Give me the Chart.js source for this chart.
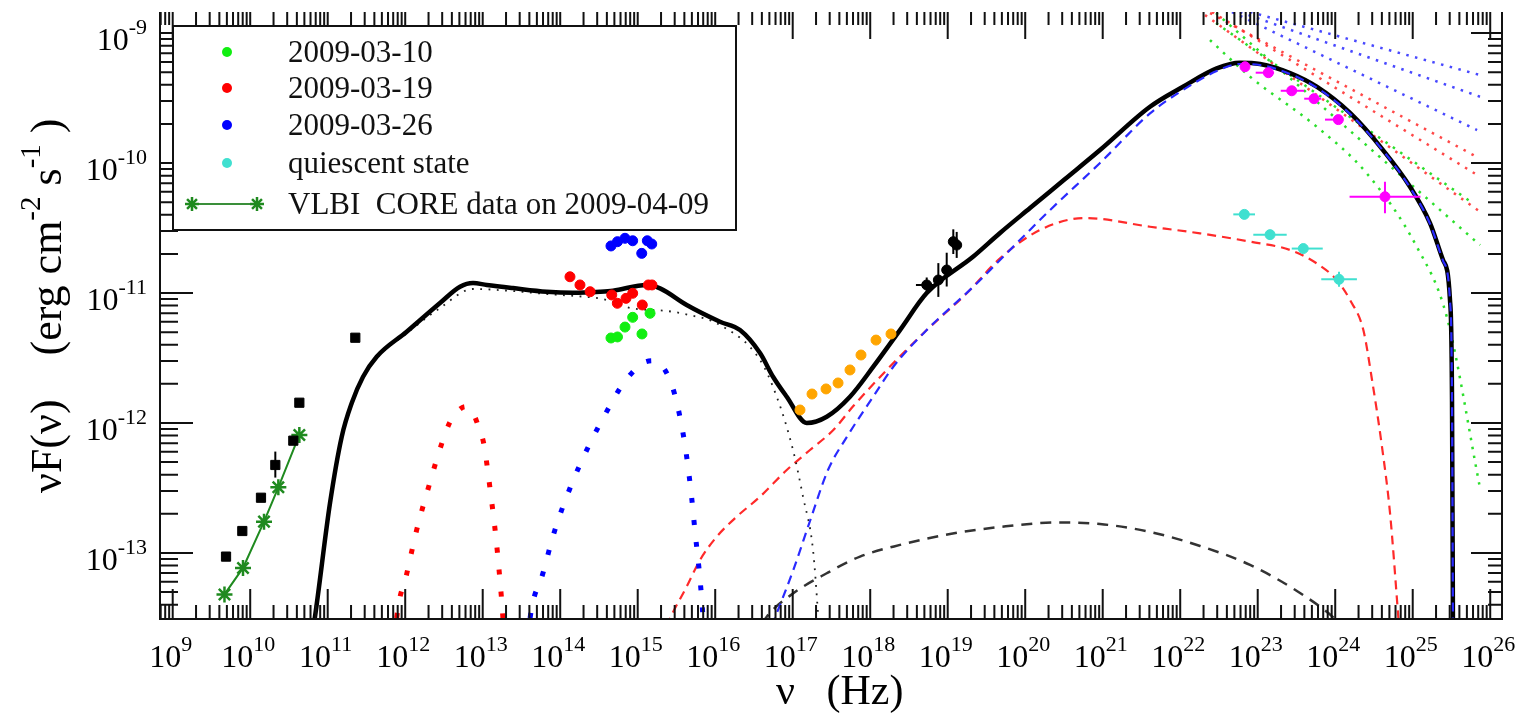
<!DOCTYPE html>
<html>
<head>
<meta charset="utf-8">
<title>SED</title>
<script src="https://cdn.jsdelivr.net/npm/chart.js@4.4.1/dist/chart.umd.min.js"></script>
<style>
html,body{margin:0;padding:0;background:#fff}
</style>
</head>
<body>
<canvas id="sed" width="1522" height="715"></canvas>
<script>
// all values as log10(nu / Hz) and log10(nuFnu / erg cm-2 s-1)
const xTickExp = [9,10,11,12,13,14,15,16,17,18,19,20,21,22,23,24,25,26]
const yTickExp = [-13,-12,-11,-10,-9]
const xLogRange = [8.836, 26.152]
const yLogRange = [-13.508, -8.838]

// total model (thick black)
const totalNu = [10.78,10.836,11.030,11.181,11.310,11.456,11.632,12.019,12.449,12.707,12.875,13.052,13.391,13.826,14.165,14.514,14.681,15.116,15.288,15.632,16.062,16.320,16.578,16.746,16.923,17.181,17.439,17.739,18.040,18.384,18.729,19.326,19.675,20.062,20.514,20.965,21.610,22.036,22.471,22.772,23.030,23.417,23.761,24.191,24.617,24.965,25.223,25.391,25.481,25.507,25.520]
const totalF = [-13.7,-13.490,-12.615,-12.105,-11.846,-11.644,-11.490,-11.298,-11.077,-10.952,-10.923,-10.938,-10.962,-10.990,-10.998,-10.990,-10.982,-10.938,-10.964,-11.092,-11.221,-11.285,-11.462,-11.644,-11.798,-12.000,-11.952,-11.798,-11.567,-11.285,-11.000,-10.721,-10.538,-10.346,-10.123,-9.900,-9.567,-9.413,-9.272,-9.228,-9.238,-9.308,-9.413,-9.615,-9.900,-10.182,-10.462,-10.746,-11.054,-11.823,-13.7]

// synchrotron (black dotted)
const syncNu = [10.78,10.836,11.030,11.181,11.310,11.456,11.632,12.019,12.449,12.875,13.391,13.826,14.294,14.552,14.900,15.374,15.585,16.062,16.578,16.794,17.004,17.133,17.262,17.326,17.352]
const syncF = [-13.7,-13.490,-12.615,-12.105,-11.846,-11.644,-11.500,-11.310,-11.115,-10.969,-10.985,-11.008,-11.028,-11.046,-11.115,-11.138,-11.159,-11.246,-11.515,-11.798,-12.208,-12.567,-12.977,-13.462,-13.7]

// torus bump (red dotted) and disk bump (blue dotted)
const dustNu = [11.868,11.890,12.019,12.148,12.303,12.475,12.578,12.668,12.775,12.862,12.930,13.017,13.060,13.098,13.168,13.223,13.262,13.275]
const dustF = [-13.67,-13.500,-13.162,-12.823,-12.490,-12.152,-11.992,-11.915,-11.875,-11.908,-12.002,-12.169,-12.344,-12.521,-12.867,-13.213,-13.515,-13.67]
const diskNu = [13.585,13.611,13.774,13.929,14.126,14.363,14.634,14.781,14.969,15.094,15.214,15.314,15.400,15.494,15.606,15.684,15.743,15.804,15.843,15.855]
const diskF = [-13.67,-13.502,-13.162,-12.828,-12.502,-12.182,-11.875,-11.725,-11.587,-11.531,-11.521,-11.562,-11.648,-11.818,-12.156,-12.508,-12.854,-13.202,-13.508,-13.67]

// external Compton (red dashed), SSC (blue dashed), low hump (black dashed)
const ecNu = [15.30,15.417,15.632,15.804,16.019,16.277,16.578,16.923,17.223,17.524,17.782,18.213,18.729,19.245,19.675,20.191,20.772,21.610,22.256,22.901,23.417,23.761,24.019,24.191,24.363,24.475,24.604,24.707,24.810,24.836]
const ecF = [-13.67,-13.502,-13.259,-13.054,-12.875,-12.721,-12.567,-12.362,-12.208,-12.054,-11.870,-11.592,-11.285,-11.002,-10.733,-10.515,-10.423,-10.490,-10.541,-10.605,-10.669,-10.772,-10.900,-11.054,-11.285,-11.669,-12.185,-12.692,-13.462,-13.67]
const sscNu = [16.661,16.794,17.008,17.223,17.455,17.701,18.036,18.298,18.729,19.330,19.675,20.320,20.965,21.610,22.036,22.471,22.772,23.030,23.417,23.761,24.191,24.617,24.965,25.223,25.391,25.481,25.507,25.520]
const sscF = [-13.669,-13.464,-13.131,-12.754,-12.362,-12.105,-11.800,-11.567,-11.285,-10.952,-10.746,-10.362,-10.000,-9.618,-9.438,-9.292,-9.238,-9.246,-9.315,-9.420,-9.622,-9.905,-10.188,-10.468,-10.752,-11.060,-11.830,-13.7]
const lowNu = [16.48,16.665,17.008,17.439,17.868,18.385,19.030,19.675,20.449,20.965,21.610,22.256,22.901,23.546,23.998,24.127]
const lowF = [-13.67,-13.490,-13.310,-13.156,-13.028,-12.938,-12.854,-12.800,-12.765,-12.777,-12.838,-12.946,-13.092,-13.308,-13.508,-13.592]

// gamma-ray bow-tie lines (dotted, upper right)
const bowBlue = [
  {nu:[22.901,25.868], f:[-8.838,-9.323]},
  {nu:[22.772,25.868], f:[-8.838,-9.490]},
  {nu:[22.668,25.830], f:[-8.838,-9.746]}
]
const bowRed = [
  {nu:[22.385,25.830], f:[-8.846,-9.954]},
  {nu:[22.410,25.868], f:[-8.838,-10.105]},
  {nu:[22.320,25.868], f:[-8.862,-10.375]}
]
const bowGreen = [
  {nu:[22.462,25.778], f:[-8.923,-10.310]},
  {nu:[22.462,25.868], f:[-8.846,-10.631]},
  {nu:[22.384,22.901,23.761,24.406,25.052,25.439,25.868], f:[-9.054,-9.336,-9.721,-10.079,-10.644,-11.182,-12.500]}
]

// optical / UV data
const g10Nu = [14.655,14.739,14.836,14.935,15.055,15.159]
const g10F = [-11.346,-11.338,-11.262,-11.187,-11.315,-11.156]
const r19Nu = [14.126,14.255,14.386,14.665,14.737,14.849,14.935,15.059,15.137,15.184]
const r19F = [-10.875,-10.938,-10.990,-11.015,-11.079,-11.041,-11.002,-11.092,-10.938,-10.938]
const b26Nu = [14.655,14.739,14.836,14.935,15.052,15.124,15.181]
const b26F = [-10.638,-10.605,-10.579,-10.598,-10.695,-10.598,-10.623]

// radio
const radioNu = [9.688,9.898,10.139,10.324,10.556,10.634,11.356]
const radioF = [-13.028,-12.831,-12.575,-12.323,-12.136,-11.844,-11.344]
const radioFLo = [-13.028,-12.831,-12.575,-12.42,-12.136,-11.844,-11.344]
const radioFHi = [-13.028,-12.831,-12.575,-12.22,-12.136,-11.844,-11.344]
const vlbiNu = [9.668,9.907,10.178,10.363,10.634]
const vlbiF = [-13.319,-13.115,-12.759,-12.495,-12.092]

// X-ray
const xrtNu = [17.094,17.249,17.430,17.585,17.739,17.881,18.075,18.268]
const xrtF = [-11.900,-11.777,-11.738,-11.692,-11.592,-11.477,-11.362,-11.315]
const batNu = [18.729,18.879,18.987,19.072,19.116]
const batF = [-10.938,-10.900,-10.823,-10.605,-10.631]
const batNuLo = [18.59,18.879,18.987,19.072,19.116]
const batNuHi = [18.87,18.879,18.987,19.072,19.116]
const batFLo = [-10.99,-11.03,-10.95,-10.70,-10.73]
const batFHi = [-10.88,-10.77,-10.69,-10.51,-10.53]

// gamma-ray, flare and quiescent
const latNu = [22.836,23.137,23.439,23.727,24.040,24.642]
const latF = [-9.259,-9.305,-9.444,-9.505,-9.666,-10.259]
const latNuLo = [22.836,22.974,23.297,23.600,23.868,24.185]
const latNuHi = [22.836,23.211,23.598,23.820,24.105,25.100]
const latFLo = [-9.259,-9.305,-9.444,-9.505,-9.666,-10.387]
const latFHi = [-9.259,-9.305,-9.444,-9.505,-9.666,-10.144]
const qNu = [22.827,23.159,23.588,24.049]
const qF = [-10.395,-10.551,-10.658,-10.895]
const qNuLo = [22.685,22.943,23.439,23.820]
const qNuHi = [22.965,23.374,23.839,24.280]
const qFLo = [-10.395,-10.551,-10.658,-10.951]
const qFHi = [-10.395,-10.551,-10.658,-10.836]

const legendLabels = ["2009-03-10","2009-03-19","2009-03-26","quiescent state","VLBI  CORE data on 2009-04-09"]

const P = v => Math.pow(10, v)
function pts(nu, f){
  return nu.map((v,i)=>({x:P(v), y:P(f[i])}))
}
function curve(nu, f, color, width, dash, order){
  return {data:pts(nu,f), showLine:true, pointRadius:0, borderColor:color, borderWidth:width,
    borderDash:dash, borderCapStyle:'butt', cubicInterpolationMode:'monotone', fill:false, clip:0, order:order}
}
function dots(nu, f, color, radius, style, order){
  return {data:pts(nu,f), showLine:false, pointRadius:radius, pointStyle:style||'circle',
    backgroundColor:color, borderColor:color, borderWidth:1, order:order||1}
}

let datasets = []
bowBlue.forEach(b=>datasets.push(curve(b.nu,b.f,'rgba(40,40,255,0.85)',2.5,[2.5,6.5],6)))
bowRed.forEach(b=>datasets.push(curve(b.nu,b.f,'rgba(255,40,40,0.85)',2.5,[2.5,6.5],6)))
bowGreen.forEach(b=>datasets.push(curve(b.nu,b.f,'rgba(20,220,20,0.9)',2.5,[2.5,6.5],6)))
datasets.push(curve(lowNu,lowF,'#333',2.5,[11,8],5))
datasets.push(curve(dustNu,dustF,'#ff0000',5,[5,17],5))
datasets.push(curve(diskNu,diskF,'#0000ff',5,[5,17],5))
datasets.push(curve(syncNu,syncF,'#222',1.8,[1.8,6.5],5))
datasets.push(curve(ecNu,ecF,'#ff2a2a',2.2,[9,6],5))
datasets.push(curve(totalNu,totalF,'#000',4.5,[],4))
datasets.push(curve(sscNu,sscF,'#2a2aff',2.2,[9,6],3))
datasets.push(dots(radioNu,radioF,'#000',6.5,'rect'))
datasets.push({data:pts(vlbiNu,vlbiF), showLine:true, pointRadius:8, pointStyle:'star',
  borderColor:'#1f8a1f', backgroundColor:'#1f8a1f', pointBorderWidth:2.5, borderWidth:2, order:1})
datasets.push(dots(xrtNu,xrtF,'#ffa500',5))
datasets.push(dots(batNu,batF,'#000',5))
datasets.push(dots(g10Nu,g10F,'#11ee11',5))
datasets.push(dots(r19Nu,r19F,'#ff0000',5))
datasets.push(dots(b26Nu,b26F,'#0000ff',5))
datasets.push(dots(qNu,qF,'#40e0d0',5))
datasets.push(dots(latNu,latF,'#ff00ff',5))

const errorSets = [
  {nu:radioNu, f:radioF, nuLo:radioNu, nuHi:radioNu, fLo:radioFLo, fHi:radioFHi, color:'#000'},
  {nu:batNu, f:batF, nuLo:batNuLo, nuHi:batNuHi, fLo:batFLo, fHi:batFHi, color:'#000'},
  {nu:latNu, f:latF, nuLo:latNuLo, nuHi:latNuHi, fLo:latFLo, fHi:latFHi, color:'#ff00ff'},
  {nu:qNu, f:qF, nuLo:qNuLo, nuHi:qNuHi, fLo:qFLo, fHi:qFHi, color:'#40e0d0'}
]

const FONT = '"Liberation Serif", "Times New Roman", serif'

// "10" with raised exponent
function powLabel(ctx, exp, x, y, align){
  ctx.font = '32px ' + FONT
  let w1 = ctx.measureText('10').width
  ctx.font = '22px ' + FONT
  let w2 = ctx.measureText(exp).width
  let x0 = align=='right' ? x - w1 - w2 : x - (w1 + w2)/2
  ctx.textAlign = 'left'
  ctx.textBaseline = 'alphabetic'
  ctx.font = '32px ' + FONT
  ctx.fillText('10', x0, y)
  ctx.font = '22px ' + FONT
  ctx.fillText(exp, x0 + w1, y - 16)
}

const framePlugin = {
  id:'frame',
  afterDatasetsDraw(chart){
    const ctx = chart.ctx, xs = chart.scales.x, ys = chart.scales.y
    ctx.save()
    // error bars
    errorSets.forEach(s=>{
      ctx.strokeStyle = s.color
      ctx.lineWidth = 2
      s.nu.forEach((v,i)=>{
        let px = xs.getPixelForValue(P(v)), py = ys.getPixelForValue(P(s.f[i]))
        ctx.beginPath()
        if(s.nuLo[i]!=s.nuHi[i]){
          ctx.moveTo(xs.getPixelForValue(P(s.nuLo[i])), py)
          ctx.lineTo(xs.getPixelForValue(P(s.nuHi[i])), py)
        }
        if(s.fLo[i]!=s.fHi[i]){
          ctx.moveTo(px, ys.getPixelForValue(P(s.fLo[i])))
          ctx.lineTo(px, ys.getPixelForValue(P(s.fHi[i])))
        }
        ctx.stroke()
      })
    })
    ctx.restore()
  },
  afterDraw(chart){
    const ctx = chart.ctx, xs = chart.scales.x, ys = chart.scales.y
    const a = chart.chartArea
    ctx.save()
    ctx.strokeStyle = '#111'
    ctx.fillStyle = '#111'
    ctx.lineWidth = 2
    // frame: left, bottom, right (top line is not drawn in the original)
    ctx.beginPath()
    ctx.moveTo(a.left, a.top); ctx.lineTo(a.left, a.bottom); ctx.lineTo(a.right, a.bottom); ctx.lineTo(a.right, a.top)
    ctx.stroke()
    // x ticks
    for(let e=8; e<=26; e++){
      for(let m=1; m<=9; m++){
        let lv = e + Math.log10(m)
        if(lv < xLogRange[0] || lv > xLogRange[1]) continue
        let px = xs.getPixelForValue(P(lv))
        let major = m==1
        ctx.beginPath()
        ctx.moveTo(px, a.bottom); ctx.lineTo(px, a.bottom - (major?30:14))
        ctx.moveTo(px, a.top); ctx.lineTo(px, a.top + (major?27:13))
        ctx.stroke()
      }
    }
    // y ticks
    for(let e=-14; e<=-9; e++){
      for(let m=1; m<=9; m++){
        let lv = e + Math.log10(m)
        if(lv < yLogRange[0] || lv > yLogRange[1]) continue
        let py = ys.getPixelForValue(P(lv))
        let major = m==1
        ctx.beginPath()
        ctx.moveTo(a.left, py); ctx.lineTo(a.left + (major?33:18), py)
        ctx.moveTo(a.right, py); ctx.lineTo(a.right - (major?31:14), py)
        ctx.stroke()
      }
    }
    // tick labels
    ctx.fillStyle = '#000'
    xTickExp.forEach(e=>{
      powLabel(ctx, String(e), xs.getPixelForValue(P(e)) - 2, a.bottom + 48, 'center')
    })
    yTickExp.forEach(e=>{
      powLabel(ctx, String(e), 147, ys.getPixelForValue(P(e)) + 17, 'right')
    })
    // axis titles
    ctx.font = '42px ' + FONT
    ctx.textAlign = 'left'
    ctx.fillText('\u03bd   (Hz)', 776, 704)
    ctx.translate(61, 493)
    ctx.rotate(-Math.PI/2)
    let parts = [['\u03bdF(\u03bd)    (erg cm',0],['-2',1],[' s',0],['-1',1],[' )',0]]
    let x = 0
    parts.forEach(p=>{
      ctx.font = (p[1]?'29px ':'44px ') + FONT
      ctx.fillText(p[0], x, p[1]? -21 : 0)
      x += ctx.measureText(p[0]).width
    })
    ctx.restore()

    // legend box
    ctx.save()
    ctx.fillStyle = '#fff'
    ctx.fillRect(173, 26, 563, 204)
    ctx.strokeStyle = '#111'
    ctx.lineWidth = 2
    ctx.strokeRect(173, 26, 563, 204)
    const rowY = [52, 88, 125, 163, 204]
    const rowColor = ['#11ee11','#ff0000','#0000ff','#40e0d0']
    ctx.font = '31px ' + FONT
    ctx.textBaseline = 'middle'
    ctx.textAlign = 'left'
    legendLabels.forEach((t,i)=>{
      if(i<4){
        ctx.fillStyle = rowColor[i]
        ctx.beginPath(); ctx.arc(227, rowY[i], 5, 0, Math.PI*2); ctx.fill()
      }else{
        ctx.strokeStyle = '#3a8f3a'
        ctx.lineWidth = 2
        ctx.beginPath(); ctx.moveTo(192, rowY[i]); ctx.lineTo(257, rowY[i]); ctx.stroke()
        ctx.strokeStyle = '#1f8a1f'
        ctx.lineWidth = 2.5
        ;[192,257].forEach(sx=>{
          for(let k=0;k<4;k++){
            let ang = k*Math.PI/4
            ctx.beginPath()
            ctx.moveTo(sx - 7*Math.cos(ang), rowY[i] - 7*Math.sin(ang))
            ctx.lineTo(sx + 7*Math.cos(ang), rowY[i] + 7*Math.sin(ang))
            ctx.stroke()
          }
        })
      }
      ctx.fillStyle = '#111'
      ctx.fillText(t, 288, rowY[i] + 2)
    })
    ctx.restore()
  }
}

new Chart(document.getElementById('sed'), {
  type:'scatter',
  data:{datasets:datasets},
  options:{
    responsive:false,
    animation:false,
    devicePixelRatio:1,
    layout:{padding:{left:160, top:12, right:20, bottom:96}},
    plugins:{legend:{display:false}, tooltip:{enabled:false}},
    scales:{
      x:{type:'logarithmic', display:false, min:P(xLogRange[0]), max:P(xLogRange[1])},
      y:{type:'logarithmic', display:false, min:P(yLogRange[0]), max:P(yLogRange[1])}
    }
  },
  plugins:[framePlugin]
})
</script>
</body>
</html>
